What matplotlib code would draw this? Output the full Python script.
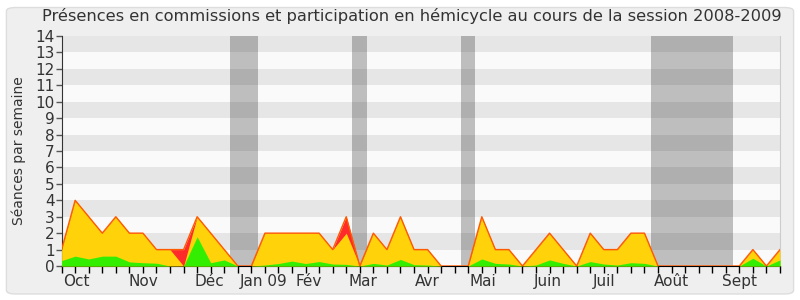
import matplotlib
matplotlib.use('Agg')
import matplotlib.pyplot as plt
from matplotlib.patches import FancyBboxPatch
import numpy as np

# weekly values, session 2008-2009 (week 0 = end of September)
total = [1, 4, 3, 2, 3, 2, 2, 1, 1, 1, 3, 2, 1, 0, 0, 2, 2, 2, 2, 2,
         1, 3, 0, 2, 1, 3, 1, 1, 0, 0, 0, 3, 1, 1, 0, 1, 2, 1, 0, 2,
         1, 1, 2, 2, 0, 0, 0, 0, 0, 0, 0, 1, 0, 1]
hemicycle = [1, 4, 3, 2, 3, 2, 2, 1, 1, 0, 3, 2, 1, 0, 0, 2, 2, 2, 2, 2,
             1, 2, 0, 2, 1, 3, 1, 1, 0, 0, 0, 3, 1, 1, 0, 1, 2, 1, 0, 2,
             1, 1, 2, 2, 0, 0, 0, 0, 0, 0, 0, 1, 0, 1]
commissions = [0.33, 0.6, 0.43, 0.6, 0.6, 0.25, 0.2, 0.17, 0.0, 0.0,
               1.78, 0.2, 0.37, 0.0, 0.0, 0.06, 0.15, 0.3, 0.15, 0.27,
               0.12, 0.1, 0.0, 0.16, 0.06, 0.4, 0.08, 0.06, 0.0, 0.0,
               0.0, 0.43, 0.16, 0.12, 0.0, 0.06, 0.37, 0.16, 0.0, 0.27,
               0.12, 0.06, 0.2, 0.16, 0.0, 0.0, 0.0, 0.0, 0.0, 0.0,
               0.0, 0.47, 0.0, 0.37]

months = ['Oct', 'Nov', 'Déc', 'Jan 09', 'Fév', 'Mar', 'Avr', 'Mai',
          'Juin', 'Juil', 'Août', 'Sept']
month_pos = [1.1, 6.0, 10.9, 14.9, 18.2, 22.2, 27.0, 31.1, 35.9, 40.0, 45.0, 50.0]

# holiday weeks (start, end)
vacations = [(12.4, 14.5), (21.4, 22.5), (29.5, 30.5), (43.5, 49.5)]

weeks = np.arange(len(total))

fig = plt.figure(figsize=(8, 3), dpi=100)
fig.patch.set_facecolor('white')
fig.patches.append(FancyBboxPatch((0.008, 0.02), 0.984, 0.955,
                                  boxstyle='round,pad=0,rounding_size=0.012',
                                  transform=fig.transFigure, facecolor='#efefef',
                                  edgecolor='#dddddd', linewidth=1, zorder=-10))

ax = fig.add_axes([0.077, 0.1133, 0.898, 0.7667])
ax.set_facecolor('#fafafa')

for k in range(1, 14, 2):
    ax.axhspan(k, k + 1, color='#e6e6e6', linewidth=0, zorder=0)

for a, b in vacations:
    ax.axvspan(a, b, color='black', alpha=0.24, linewidth=0, zorder=1)

ax.fill_between(weeks, 0, total, color='#ff2a2a', linewidth=0, zorder=2)
ax.fill_between(weeks, 0, hemicycle, color='#ffd20a', linewidth=0, zorder=3)
ax.fill_between(weeks, 0, commissions, color='#33ee00', linewidth=0, zorder=4)
ax.plot(weeks, total, color='#ff5a00', linewidth=1, zorder=5)

ax.set_xlim(0, 53)
ax.set_ylim(0, 14)
ax.set_yticks(range(0, 15))
ax.set_xticks(weeks)
ax.set_xticklabels([])
ax.tick_params(axis='x', which='major', length=5, width=1, color='black')
ax.tick_params(axis='y', length=4, width=1, color='#555555', labelsize=11,
               labelcolor='#333333', pad=1)

# month names under the week ticks
for pos, name in zip(month_pos, months):
    ax.text(pos, -0.035, name, transform=ax.get_xaxis_transform(),
            ha='center', va='top', fontsize=11, color='#333333')

# dotted marks along the top edge
ax.scatter(weeks, np.full(len(weeks), 1.004), s=0.25, marker='s', color='#666666',
           linewidths=0, transform=ax.get_xaxis_transform(), clip_on=False, zorder=6)

ax.spines['top'].set_visible(False)
ax.spines['right'].set_color('#cccccc')
ax.spines['left'].set_color('#333333')
ax.spines['bottom'].set_color('black')

ax.set_ylabel('Séances par semaine', fontsize=10, color='#333333')
ax.yaxis.set_label_coords(-0.05, 0.5)
fig.suptitle('Présences en commissions et participation en hémicycle au cours de la session 2008-2009',
             fontsize=11.7, color='#333333', x=0.515, y=0.975)

fig.savefig('out.png', dpi=100, facecolor=fig.get_facecolor())
